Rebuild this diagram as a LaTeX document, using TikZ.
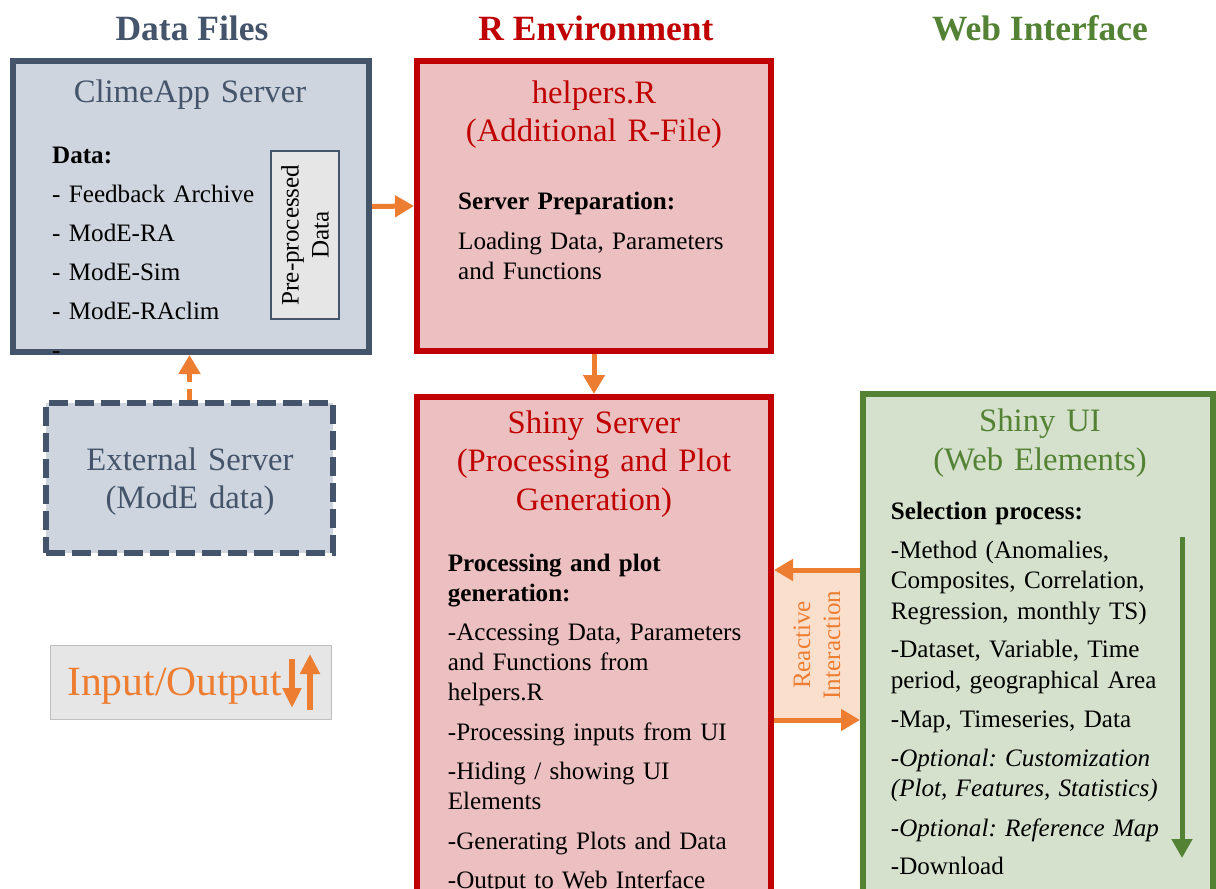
\documentclass[tikz,border=0pt]{standalone}
\usepackage{fontspec}
\setmainfont{Liberation Serif}
\usetikzlibrary{arrows.meta}
\frenchspacing
\definecolor{slate}{HTML}{44546A}
\definecolor{slatefill}{RGB}{207,213,222}
\definecolor{dred}{HTML}{C00000}
\definecolor{pinkfill}{RGB}{236,191,192}
\definecolor{dgreen}{HTML}{548235}
\definecolor{greenfill}{RGB}{213,225,204}
\definecolor{orng}{HTML}{ED7D31}
\definecolor{peach}{RGB}{251,223,205}
\definecolor{lgray}{RGB}{230,230,230}
\definecolor{lborder}{RGB}{191,191,191}
\newcommand{\myBody}{\fontsize{25.1}{30}\selectfont}
\newcommand{\myTitle}{\fontsize{32.7}{38.5}\selectfont}
\newcommand{\myHead}{\fontsize{35.5}{40}\selectfont\bfseries}
\tikzset{
  x=1pt, y=-1pt,
  bigbox/.style={line width=6pt, inner sep=0pt, minimum width=#1},
  slatebox/.style={bigbox=#1, draw=slate, fill=slatefill},
  redbox/.style={bigbox=#1, draw=dred, fill=pinkfill},
  greenbox/.style={bigbox=#1, draw=dgreen, fill=greenfill},
  txt/.style={anchor=base west, inner sep=0pt, text width=#1, align=left, font=\myBody},
  ttl/.style={anchor=base, inner sep=0pt, text width=#1, align=center, font=\myTitle},
  hd/.style={anchor=base, inner sep=0pt, font=\myHead},
  oarrow/.style={draw=orng, line width=5pt, -{Triangle[length=19pt,width=21pt]}},
  garrow/.style={draw=dgreen, line width=5pt, -{Triangle[length=19pt,width=20pt]}},
}
\begin{document}
\begin{tikzpicture}
\clip (0,0) rectangle (1216,889);
\fill[white] (0,0) rectangle (1216,889);

% headings
\node[hd, text=slate] (h1) at (192,40) {Data Files};
\node[hd, text=dred] (h2) at (596,40) {R Environment};
\node[hd, text=dgreen] (h3) at (1040,40) {Web Interface};

% ClimeApp server
\node[slatebox=356, minimum height=291] (clime) at (191,206.5) {};
\node[ttl=340, text=slate] (climet) at (190,102.7) {ClimeApp Server};
\node[txt=220, font=\fontsize{25.1}{39}\selectfont] (climelist) at (52,163.5)
  {\textbf{Data:}\\- Feedback Archive\\- ModE-RA\\- ModE-Sim\\- ModE-RAclim\\-};
\node[draw=slate, fill=lgray, line width=2pt, rotate=90, minimum width=168, minimum height=68,
      inner sep=0pt, align=center, font=\fontsize{25.1}{30}\selectfont] (pre) at (305,235)
  {Pre-processed\\Data};

% External server
\node[slatebox=287, minimum height=150, dash pattern=on 19pt off 7pt] (ext) at (189.5,478) {};
\node[ttl=280, text=slate, font=\fontsize{32.7}{37.6}\selectfont] (extt) at (190,470.7) {External Server\\(ModE data)};

% helpers.R
\node[redbox=354, minimum height=290] (helpers) at (594,206) {};
\node[ttl=350, text=dred] (helperst) at (594,103.3) {helpers.R\\(Additional R-File)};
\node[txt=300] (helpersb) at (458,209.3)
  {\textbf{Server Preparation:}\\[10pt]Loading Data, Parameters\\and Functions};

% Shiny server
\node[redbox=354, minimum height=508] (server) at (594,651) {};
\node[ttl=350, text=dred] (servert) at (594,433.3) {Shiny Server\\(Processing and Plot\\Generation)};
\node[txt=320] (serverb) at (447.7,571)
  {\textbf{Processing and plot}\\\textbf{generation:}\\[9pt]-Accessing Data, Parameters\\and Functions from\\helpers.R\\[10pt]-Processing inputs from UI\\[9pt]-Hiding / showing UI\\Elements\\[10pt]-Generating Plots and Data\\[9pt]-Output to Web Interface};

% Shiny UI
\node[greenbox=350, minimum height=511] (ui) at (1038,649.5) {};
\node[ttl=340, text=dgreen, font=\fontsize{32.7}{38.3}\selectfont] (uit) at (1040,431.7) {Shiny UI\\(Web Elements)};
\node[txt=330, font=\fontsize{25.1}{30.5}\selectfont] (uib) at (890.7,519.3)
  {\textbf{Selection process:}\\[8.5pt]-Method (Anomalies,\\Composites, Correlation,\\Regression, monthly TS)\\[8pt]-Dataset, Variable, Time\\period, geographical Area\\[8.5pt]-Map, Timeseries, Data\\[8.5pt]\textit{-Optional: Customization}\\\textit{(Plot, Features, Statistics)}\\[9pt]\textit{-Optional: Reference Map}\\[8pt]-Download};
\coordinate (gtop) at (1182,537);
\coordinate (gbot) at (1182,858);
\draw[garrow] (gtop) -- (gbot);

% Reactive interaction
\fill[peach] (774,570) rectangle (860,720);
\node[rotate=90, inner sep=0pt, align=center, text=orng, font=\fontsize{25.1}{30}\selectfont] (react) at (817,645) {Reactive\\Interaction};
\coordinate (rtop) at (0,570);
\coordinate (rbot) at (0,720);
\draw[oarrow] (ui.west |- rtop) -- (server.east |- rtop);
\draw[oarrow] (server.east |- rbot) -- (ui.west |- rbot);

% connectors
\draw[oarrow] (clime.east) -- (helpers.west);
\draw[oarrow] (helpers.south) -- (server.north);
\draw[oarrow, dash pattern=on 11pt off 7pt] (ext.north) -- (ext.north |- clime.south);

% legend
\node[fill=lgray, draw=lborder, line width=1pt, minimum width=281, minimum height=74, inner sep=0pt] (legend) at (191,682) {};
\node[anchor=base west, inner sep=0pt, text=orng, font=\fontsize{41.6}{45}\selectfont] (legendt) at (67,695) {Input/Output};
\coordinate (la1) at (292,659);
\coordinate (la2) at (292,708);
\coordinate (lb1) at (310,710);
\coordinate (lb2) at (310,654);
\draw[draw=orng, line width=6pt, -{Triangle[length=20pt,width=18pt]}] (la1) -- (la2);
\draw[draw=orng, line width=6pt, -{Triangle[length=20pt,width=19pt]}] (lb1) -- (lb2);
\end{tikzpicture}
\end{document}
